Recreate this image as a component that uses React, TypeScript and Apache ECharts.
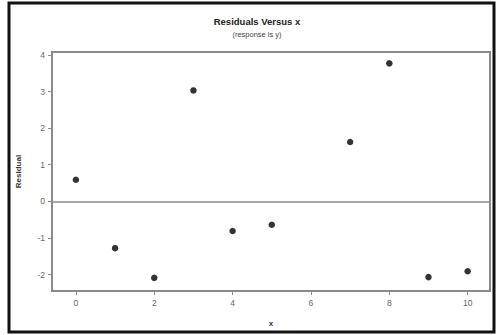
import React, { useEffect, useRef } from "react";
import * as echarts from "echarts";

const xValues = [0, 1, 2, 3, 4, 5, 7, 8, 9, 10];
const residuals = [0.59, -1.28, -2.09, 3.03, -0.81, -0.64, 1.62, 3.77, -2.07, -1.91];
const xTicks = [0, 2, 4, 6, 8, 10];
const yTicks = [-2, -1, 0, 1, 2, 3, 4];

const FONT = "'Liberation Sans', Arial, sans-serif";

export default function App() {
  const ref = useRef<HTMLDivElement>(null);
  useEffect(() => {
    if (!ref.current) return;
    const chart = echarts.init(ref.current, null, { renderer: "svg" });
    const data = xValues.map((x, i) => [x, residuals[i]]);
    chart.setOption({
      animation: false,
      backgroundColor: "#fff",
      textStyle: { fontFamily: FONT },
      graphic: [
        {
          type: "rect",
          shape: { x: 9, y: 3, width: 485, height: 329 },
          style: { fill: "none", stroke: "#111", lineWidth: 3 },
          silent: true,
        },
        {
          type: "text",
          x: 257,
          y: 21,
          style: {
            text: "Residuals Versus x",
            fontFamily: FONT,
            fontSize: 9.5,
            fontWeight: "bold",
            fill: "#222",
            textAlign: "center",
            textVerticalAlign: "middle",
          },
        },
        {
          type: "text",
          x: 257,
          y: 34,
          style: {
            text: "(response is y)",
            fontFamily: FONT,
            fontSize: 7.5,
            fill: "#444",
            textAlign: "center",
            textVerticalAlign: "middle",
          },
        },
      ],
      grid: {
        left: 52,
        top: 52,
        right: 6,
        bottom: 44,
        show: true,
        borderColor: "#8a8a8a",
        borderWidth: 2,
        backgroundColor: "#fff",
      },
      xAxis: {
        type: "value",
        min: -0.61,
        max: 10.57,
        name: "x",
        nameLocation: "middle",
        nameGap: 28,
        nameTextStyle: { fontSize: 8, fontWeight: "bold", color: "#333", fontFamily: FONT },
        axisLine: { show: false, onZero: false },
        splitLine: { show: false },
        axisTick: {
          show: true,
          customValues: xTicks,
          length: 4,
          lineStyle: { color: "#8a8a8a", width: 1 },
        },
        axisLabel: {
          customValues: xTicks,
          fontSize: 8.5,
          color: "#666",
          margin: 7,
          fontFamily: FONT,
        },
      },
      yAxis: {
        type: "value",
        min: -2.45,
        max: 4.08,
        name: "Residual",
        nameLocation: "middle",
        nameGap: 30,
        nameTextStyle: { fontSize: 8, fontWeight: "bold", color: "#333", fontFamily: FONT },
        axisLine: { show: false, onZero: false },
        splitLine: { show: false },
        axisTick: {
          show: true,
          customValues: yTicks,
          length: 4,
          lineStyle: { color: "#8a8a8a", width: 1 },
        },
        axisLabel: {
          customValues: yTicks,
          fontSize: 8.5,
          color: "#666",
          margin: 7,
          fontFamily: FONT,
        },
      },
      series: [
        {
          type: "scatter",
          data,
          symbol: "circle",
          symbolSize: 6.5,
          itemStyle: { color: "#000" },
          markLine: {
            silent: true,
            symbol: ["none", "none"],
            label: { show: false },
            lineStyle: { color: "#8a8a8a", width: 1.5, type: "solid" },
            data: [{ yAxis: 0 }],
          },
        },
      ],
    });
    return () => chart.dispose();
  }, []);
  return (
    <div
      ref={ref}
      style={{ position: "absolute", left: 0, top: 0, width: 496, height: 335 }}
    />
  );
}
